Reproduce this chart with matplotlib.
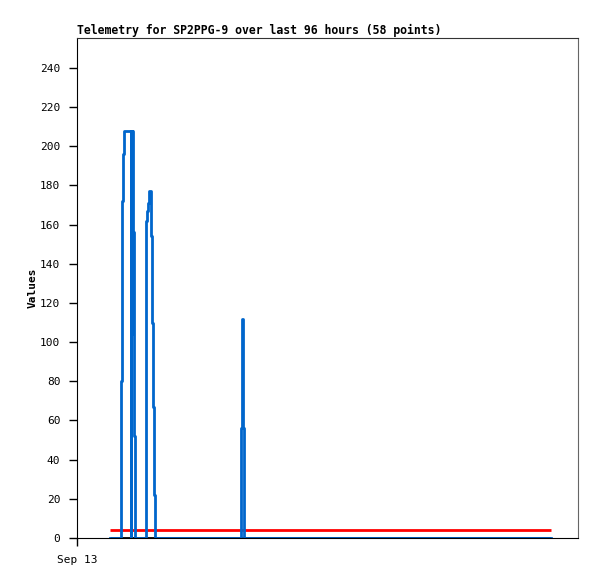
import matplotlib
matplotlib.use("Agg")
import matplotlib.pyplot as plt

# hours since Sep 13 00:00 and telemetry values (step data)
hours = [7.18, 9.51, 9.80, 9.95, 10.17, 11.69, 11.75, 11.85, 11.90, 11.98, 12.03,
         12.12, 12.41, 12.56, 14.95, 15.08, 15.30, 15.46, 15.67, 16.04, 16.26,
         16.48, 16.70, 16.91, 35.75, 36.00, 36.10, 36.30, 103.18]
values = [0, 80, 172, 196, 208, 0, 208, 104, 208, 104, 208,
          156, 52, 0, 80, 162, 167, 171, 177, 154, 110,
          67, 22, 0, 56, 112, 56, 0, 0]
zero_line = [0, 0]
red_line = [4, 4]
span = [7.18, 103.18]
yticks = list(range(0, 241, 20))

mono = "DejaVu Sans Mono"
fig = plt.figure(figsize=(5.97, 5.79), dpi=100)
ax = fig.add_axes([77/597, 1 - 538/579, 501/597, 500/579])

ax.plot(span, zero_line, color="black", lw=2, solid_capstyle="butt")
ax.plot(span, red_line, color="#ff0000", lw=2, solid_capstyle="butt")
ax.step(hours, values, where="post", color="#0066cc", lw=2)

ax.set_xlim(0, 109.06)
ax.set_ylim(0, 255.3)
ax.set_yticks(yticks)
ax.set_yticklabels([str(v) for v in yticks], family=mono, fontsize=8)
ax.set_xticks([0])
ax.set_xticklabels(["Sep 13"], family=mono, fontsize=8)
ax.tick_params(axis="both", direction="out", length=6, width=1, color="black")
ax.tick_params(axis="y", pad=6)
ax.tick_params(axis="x", pad=6)

for s in ["left", "bottom"]:
    ax.spines[s].set_color("black")
ax.spines["top"].set_color("#333333")
ax.spines["right"].set_color("#666666")

ax.set_ylabel("Values", family=mono, fontsize=8, fontweight="bold", labelpad=2)
ax.set_title("Telemetry for SP2PPG-9 over last 96 hours (58 points)",
             family=mono, fontsize=8.3, fontweight="bold", loc="left", pad=3)

fig.savefig("out.png", dpi=100)
